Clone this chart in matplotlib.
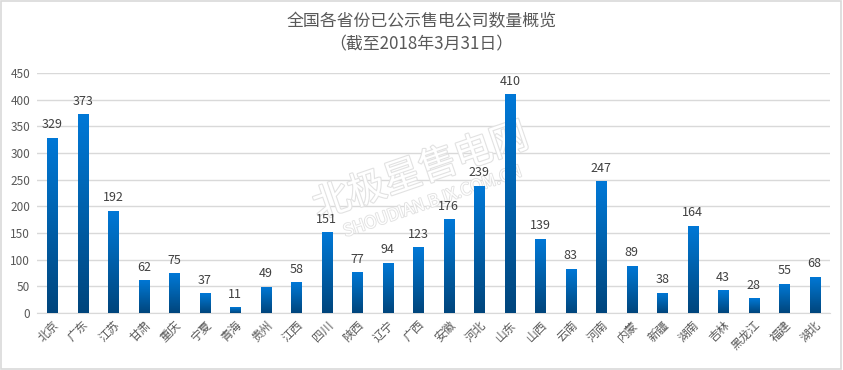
import matplotlib
matplotlib.use("Agg")
import matplotlib.pyplot as plt
import matplotlib.patheffects as pe
import numpy as np
from matplotlib.colors import LinearSegmentedColormap
from matplotlib.patches import Rectangle

plt.rcParams['font.family'] = ['Noto Sans CJK SC', 'DejaVu Sans']

provinces = ["北京", "广东", "江苏", "甘肃", "重庆", "宁夏", "青海", "贵州", "江西", "四川",
             "陕西", "辽宁", "广西", "安徽", "河北", "山东", "山西", "云南", "河南", "内蒙",
             "新疆", "湖南", "吉林", "黑龙江", "福建", "湖北"]
counts = [329, 373, 192, 62, 75, 37, 11, 49, 58, 151, 77, 94, 123, 176, 239, 410, 139,
          83, 247, 89, 38, 164, 43, 28, 55, 68]
yticks = [0, 50, 100, 150, 200, 250, 300, 350, 400, 450]
title = "全国各省份已公示售电公司数量概览\n（截至2018年3月31日）"

W, H = 843, 370
fig = plt.figure(figsize=(W / 100, H / 100), dpi=100)
fig.patch.set_facecolor("white")
fig.patches.append(Rectangle((0.001, 0.002), 0.997, 0.995, transform=fig.transFigure,
                             fill=False, edgecolor="#D9D9D9", linewidth=1.2))

ax = fig.add_axes([37 / W, 57 / H, 793 / W, 240 / H])
x = np.arange(len(provinces))
bw = 0.34
bars = ax.bar(x, counts, width=bw, color="none", zorder=3)

cmap = LinearSegmentedColormap.from_list("g", [(0, "#00457C"), (0.65, "#0068B8"), (1, "#0078D7")])
grad = np.linspace(0, 1, 256).reshape(-1, 1)
for b in bars:
    x0, y0, w, h = b.get_x(), b.get_y(), b.get_width(), b.get_height()
    im = ax.imshow(grad, extent=[x0, x0 + w, y0, y0 + h], origin="lower", aspect="auto",
                   cmap=cmap, zorder=3)
    im.set_clip_path(b)

for xi, v in zip(x, counts):
    ax.text(xi, v + 12, str(v), ha="center", va="bottom", fontsize=9, color="#404040", zorder=4)

ax.set_xlim(-0.5, len(provinces) - 0.5)
ax.set_ylim(0, 450)
ax.set_yticks(yticks)
ax.set_yticklabels([str(t) for t in yticks], fontsize=8.5, color="#595959")
ax.set_xticks(x)
ax.set_xticklabels(provinces, rotation=45, ha="right", rotation_mode="anchor",
                   fontsize=8.5, color="#595959")
ax.tick_params(axis="both", length=0, pad=5)
ax.tick_params(axis="x", pad=4)
ax.grid(axis="y", color="#D9D9D9", linewidth=1)
ax.set_axisbelow(True)
for s in ["top", "right", "left"]:
    ax.spines[s].set_visible(False)
ax.spines["bottom"].set_color("#D9D9D9")

# watermark (outlined, behind bars)
ax.text(0.484, 0.5875, "北极星售电网", transform=ax.transAxes, fontsize=27, color="white",
        rotation=19, ha="center", va="center", zorder=1,
        path_effects=[pe.withStroke(linewidth=1.6, foreground="#E2E2E2")])
ax.text(0.499, 0.4625, "SHOUDIAN.BJX.COM.CN", transform=ax.transAxes, fontsize=12,
        color="white", rotation=19, ha="center", va="center", zorder=1,
        path_effects=[pe.withStroke(linewidth=1.3, foreground="#E2E2E2")])

fig.text(0.5, 1 - 33 / H, title, ha="center", va="center", fontsize=12.2, color="#595959",
         linespacing=1.4)

fig.savefig("out.png", dpi=100)
